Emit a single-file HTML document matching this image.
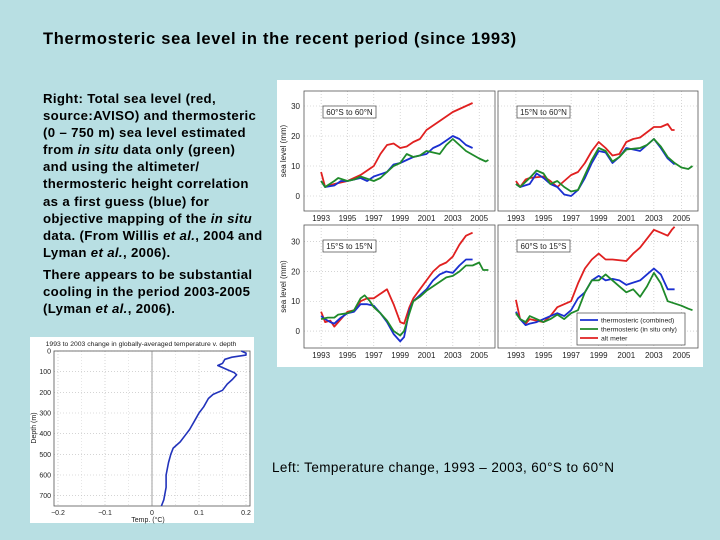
<!DOCTYPE html>
<html><head><meta charset="utf-8">
<style>
html,body{margin:0;padding:0}
body{width:720px;height:540px;background:#b8dfe3;position:relative;overflow:hidden;font-family:"Liberation Sans",Arial,sans-serif}
.t{position:absolute;color:#000}
#title{left:43px;top:30px;font-size:16.5px;letter-spacing:0.7px;font-weight:bold;white-space:nowrap}
#body1{left:43px;top:90px;font-size:13.2px;letter-spacing:0.35px;font-weight:bold;line-height:17.1px;white-space:nowrap}
#body2{left:43px;top:266px;font-size:13.2px;letter-spacing:0.35px;font-weight:bold;line-height:17.1px;white-space:nowrap}
#cap{left:272px;top:460px;font-size:13.5px;letter-spacing:0.4px;white-space:nowrap}
svg{position:absolute;left:0;top:0}
</style></head><body>
<div class="t" id="title">Thermosteric sea level in the recent period (since 1993)</div>
<div class="t" id="body1">Right: Total sea level (red,<br>source:AVISO) and thermosteric<br>(0 – 750 m) sea level estimated<br>from <i>in situ</i> data only (green)<br>and using the altimeter/<br>thermosteric height correlation<br>as a first guess (blue) for<br>objective mapping of the <i>in situ</i><br>data. (From Willis <i>et al.</i>, 2004 and<br>Lyman <i>et al.</i>, 2006).</div>
<div class="t" id="body2">There appears to be substantial<br>cooling in the period 2003-2005<br>(Lyman <i>et al.</i>, 2006).</div>
<div class="t" id="cap">Left: Temperature change, 1993 – 2003, 60°S to 60°N</div>
<svg id="svg" width="720" height="540"></svg>
<script>
// ---- Sea level data (year, mm) ----
const xTicks=[1993,1995,1997,1999,2001,2003,2005];
const yTicks=[0,10,20,30];
const panelLabels=["60°S to 60°N","15°N to 60°N","15°S to 15°N","60°S to 15°S"];
const p1Red=[[1993,8],[1993.3,3],[1994,4],[1995,5],[1996,7],[1997,10],[1997.5,14],[1998,17],[1998.5,17.5],[1999,16],[1999.5,16.5],[2000,18],[2000.5,19],[2001,22],[2002,25],[2003,28],[2003.5,29],[2004,30],[2004.5,31]];
const p1Blue=[[1993,5],[1993.3,3],[1994,3.5],[1994.5,5],[1995,5],[1995.5,5.5],[1996,6],[1996.5,5],[1997,6.5],[1998,8],[1998.5,10.5],[1999,11],[1999.5,12],[2000,13],[2001,14],[2001.5,16],[2002,17],[2002.5,18.5],[2003,20],[2003.5,19],[2004,17],[2004.5,16]];
const p1Green=[[1993,5],[1993.3,3],[1994,5],[1994.3,6],[1995,5],[1995.5,5.5],[1996,6.5],[1997,5],[1997.5,6],[1998,8],[1998.5,10],[1999,11],[1999.5,14],[2000,13],[2000.5,13.5],[2001,15],[2002,14],[2002.5,17],[2003,19],[2003.5,17],[2004,15],[2005,12.5],[2005.5,11.5],[2005.7,12]];
const p2Red=[[1993,5],[1993.3,3],[1993.7,5.5],[1994,6],[1995,6.5],[1995.5,5],[1996,3],[1996.5,5],[1997,7],[1997.5,8],[1998,11],[1998.5,15],[1999,18],[1999.5,16],[2000,13.5],[2000.5,14],[2001,18],[2001.5,19],[2002,19.5],[2003,23],[2003.5,23],[2004,24],[2004.3,22],[2004.5,22]];
const p2Blue=[[1993,4],[1993.3,3],[1994,4],[1994.5,7.5],[1995,6],[1995.5,4],[1996,3],[1996.5,0.5],[1997,0],[1997.5,2],[1998,6],[1998.5,11],[1999,15],[1999.5,14.5],[2000,11],[2000.5,13],[2001,16],[2002,15],[2002.5,17],[2003,19],[2003.5,16],[2004,12.5],[2004.5,10.5]];
const p2Green=[[1993,4],[1993.3,3],[1994,6],[1994.5,8.5],[1995,7.5],[1995.5,4],[1996,5],[1996.5,3],[1997,1.5],[1997.5,2],[1998,7],[1998.5,12],[1999,16],[1999.5,15],[2000,11.5],[2000.5,13],[2001,15.5],[2002,16],[2002.5,17],[2003,19],[2003.5,16.5],[2004,13],[2004.5,11],[2005,9.5],[2005.5,9],[2005.8,10]];
const p3Red=[[1993,6.5],[1993.3,3],[1993.7,3.5],[1994,1.5],[1994.5,4],[1995,6.5],[1995.5,7],[1996,10],[1996.5,11],[1997,11],[1997.5,12.5],[1998,14],[1998.5,9],[1999,3],[1999.3,2.5],[1999.7,8],[2000,11],[2000.5,14],[2001,17],[2001.5,20],[2002,22],[2002.5,23],[2003,25],[2003.5,29],[2004,32],[2004.5,33]];
const p3Blue=[[1993,5],[1993.3,4],[1993.7,3],[1994,2.5],[1994.5,4.5],[1995,6],[1995.5,6.5],[1996,9],[1996.5,9],[1997,8.5],[1997.5,6],[1998,3],[1998.5,-1],[1999,-3.5],[1999.3,-2],[1999.7,7],[2000,10],[2000.5,12],[2001,14],[2001.5,17],[2002,19],[2002.5,20],[2003,19.5],[2003.5,22],[2004,24],[2004.5,24]];
const p3Green=[[1993,4],[1993.5,4.5],[1994,4.5],[1994.3,5.5],[1995,6],[1995.5,7],[1996,11],[1996.3,12],[1996.7,10],[1997,8],[1997.5,6],[1998,3.5],[1998.5,0],[1999,-1.5],[1999.3,0],[1999.7,6],[2000,10],[2000.5,11.5],[2001,13.5],[2002,16.5],[2002.5,18],[2003,18.5],[2003.5,20],[2004,22],[2004.5,22],[2005,23],[2005.3,20.5],[2005.7,20.5]];
const p4Red=[[1993,10.5],[1993.3,4],[1993.7,2.5],[1994,4],[1995,3],[1995.5,5],[1996,8],[1996.5,9],[1997,10],[1997.5,16],[1998,21],[1998.5,24],[1999,26],[1999.5,24],[2000,24],[2001,23.5],[2001.5,26],[2002,28],[2002.5,31],[2003,34],[2003.5,33],[2004,32],[2004.3,34],[2004.5,35]];
const p4Blue=[[1993,6.5],[1993.3,4],[1993.7,2],[1994,2.5],[1994.5,3],[1995,4],[1995.5,5],[1996,6],[1996.5,5],[1997,7],[1997.5,11],[1998,13],[1998.5,17],[1999,18.5],[1999.5,17],[2000,17.5],[2000.5,17],[2001,15.5],[2002,17],[2002.5,19],[2003,21],[2003.5,19],[2004,14],[2004.5,14]];
const p4Green=[[1993,6],[1993.3,4],[1993.7,3],[1994,5],[1995,3],[1995.5,4],[1996,5.5],[1996.5,4],[1997,6],[1997.5,7],[1998,13],[1998.5,17],[1999,17],[1999.5,19],[2000,17],[2000.5,15],[2001,13],[2001.5,14],[2002,11.5],[2002.5,15],[2003,19.5],[2003.5,16],[2004,10],[2005,8.5],[2005.5,7.5],[2005.8,7]];
// ---- Temperature profile (degC, depth m) ----
const tempTicks=[-0.2,-0.1,0,0.1,0.2];
const depthTicks=[0,100,200,300,400,500,600,700];
const tempProfile=[[0.19,0],[0.2,10],[0.2,20],[0.17,30],[0.155,40],[0.15,60],[0.14,70],[0.16,90],[0.175,105],[0.18,115],[0.17,140],[0.16,160],[0.15,190],[0.13,210],[0.12,230],[0.11,270],[0.1,300],[0.09,340],[0.08,380],[0.07,410],[0.06,440],[0.045,470],[0.04,500],[0.035,540],[0.03,600],[0.03,660],[0.025,720],[0.02,750]];

const svg=document.getElementById('svg');
const NS='http://www.w3.org/2000/svg';
function mk(tag,attrs,parent){const e=document.createElementNS(NS,tag);for(const k in attrs)e.setAttribute(k,attrs[k]);(parent||svg).appendChild(e);return e;}
function txt(s,x,y,size,anchor,parent,rot){const e=mk('text',{x:x,y:y,'font-size':size,'text-anchor':anchor||'middle','font-family':'Liberation Sans, Arial, sans-serif',fill:'#222'},parent);if(rot)e.setAttribute('transform','rotate(-90 '+x+' '+y+')');e.textContent=s;return e;}

const rb=mk('rect',{x:277,y:80,width:426,height:287,fill:'#fff'});



const panels=[
 {x0:304,x1:495,y0:91,y1:211,ymin:-5,ymax:35,d:[p1Red,p1Blue,p1Green],yl:true},
 {x0:498,x1:698,y0:91,y1:211,ymin:-5,ymax:35,d:[p2Red,p2Blue,p2Green],yl:false},
 {x0:304,x1:495,y0:225,y1:348,ymin:-5.7,ymax:35.6,d:[p3Red,p3Blue,p3Green],yl:true},
 {x0:498,x1:698,y0:225,y1:348,ymin:-5.7,ymax:35.6,d:[p4Red,p4Blue,p4Green],yl:false}
];
const colors=['#e02020','#1a2fd0','#1f8a2a'];
panels.forEach((p,i)=>{
  const xmin=1991.7, xmax=2006.2;
  const sx=v=>p.x0+(v-xmin)/(xmax-xmin)*(p.x1-p.x0);
  const sy=v=>p.y1-(v-p.ymin)/(p.ymax-p.ymin)*(p.y1-p.y0);
  const g=mk('g',{});
  
  
  xTicks.forEach(t=>{mk('line',{x1:sx(t),x2:sx(t),y1:p.y0,y2:p.y1,stroke:'#bbb','stroke-width':0.6,'stroke-dasharray':'1,2'},g);
    txt(String(t),sx(t),p.y1+10,8,'middle',g);});
  yTicks.forEach(t=>{mk('line',{x1:p.x0,x2:p.x1,y1:sy(t),y2:sy(t),stroke:'#bbb','stroke-width':0.6,'stroke-dasharray':'1,2'},g);
    if(p.yl)txt(String(t),p.x0-4,sy(t)+3,8,'end',g);});
  mk('rect',{x:p.x0,y:p.y0,width:p.x1-p.x0,height:p.y1-p.y0,fill:'none',stroke:'#555','stroke-width':0.8},g);
  if(p.yl)txt('sea level (mm)',p.x0-18,(p.y0+p.y1)/2,8,'middle',g,true);
  p.d.forEach((s,k)=>{const l=mk('polyline',{points:s.map(q=>sx(q[0]).toFixed(1)+','+sy(q[1]).toFixed(1)).join(' '),fill:'none',stroke:colors[k],'stroke-width':1.8,'stroke-linejoin':'round'},g);
    
    });
  const lx=p.x0+19, ly=p.y0+15;
  mk('rect',{x:lx,y:ly,width:53,height:12,fill:'#fff',stroke:'#444','stroke-width':0.7},g);
  txt(panelLabels[i],lx+26.5,ly+9,8,'middle',g);
});
const lg=mk('g',{});


mk('rect',{x:577,y:313,width:108,height:32,fill:'#fff',stroke:'#444','stroke-width':0.7},lg);
['thermosteric (combined)','thermosteric (in situ only)','alt meter'].forEach((s,k)=>{
  const y=[320,329,338][k];
  mk('line',{x1:580,x2:598,y1:y,y2:y,stroke:[colors[1],colors[2],colors[0]][k],'stroke-width':1.8},lg);
  txt(s,601,y+2.5,6.8,'start',lg);
});

const lb=mk('rect',{x:30,y:337,width:224,height:186,fill:'#fff'});


const tx=v=>54+(v+0.2085)/0.417*196;
const ty=v=>351+v/750*155;
const lgp=mk('g',{});


txt('1993 to 2003 change in globally-averaged temperature v. depth',141,346,6.8,'middle',lgp);
tempTicks.forEach(t=>{mk('line',{x1:tx(t),x2:tx(t),y1:351,y2:506,stroke:'#bbb','stroke-width':0.6,'stroke-dasharray':'1,2'},lgp);
  txt(t===0?'0':String(t).replace('-','−'),tx(t),515,7,'middle',lgp);});
[-0.15,-0.05,0.05,0.15].forEach(t=>mk('line',{x1:tx(t),x2:tx(t),y1:351,y2:506,stroke:'#ccc','stroke-width':0.5,'stroke-dasharray':'1,2'},lgp));
depthTicks.forEach(t=>{mk('line',{x1:54,x2:250,y1:ty(t),y2:ty(t),stroke:'#bbb','stroke-width':0.6,'stroke-dasharray':'1,2'},lgp);
  txt(String(t),51,ty(t)+2.5,7,'end',lgp);});
mk('rect',{x:54,y:351,width:196,height:155,fill:'none',stroke:'#555','stroke-width':0.8},lgp);
mk('line',{x1:tx(0),x2:tx(0),y1:351,y2:506,stroke:'#888','stroke-width':0.8},lgp);
txt('Depth (m)',36,428,7,'middle',lgp,true);
txt('Temp. (°C)',148,522,7,'middle',lgp);
const tp=mk('polyline',{points:tempProfile.map(q=>tx(q[0]).toFixed(1)+','+ty(q[1]).toFixed(1)).join(' '),fill:'none',stroke:'#2233bb','stroke-width':1.6,'stroke-linejoin':'round'},lgp);


</script>
</body></html>
